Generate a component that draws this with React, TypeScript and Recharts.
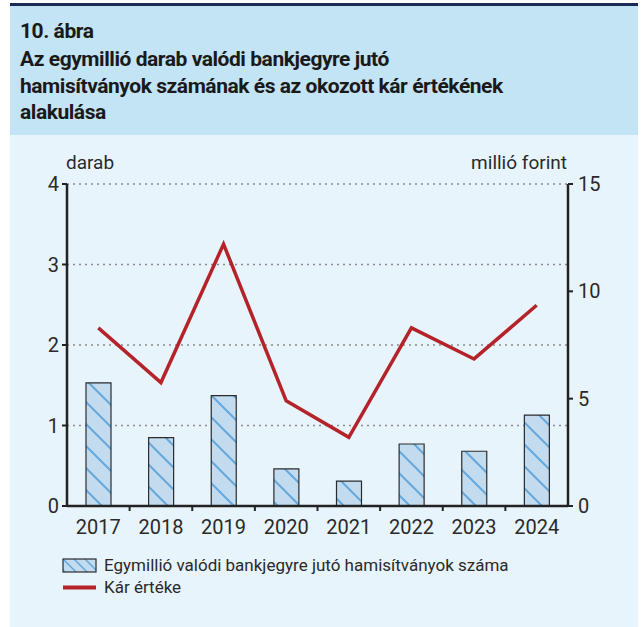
import React from "react";
import { ComposedChart, Bar, Line, XAxis, YAxis, CartesianGrid } from "recharts";

const YEARS = ["2017", "2018", "2019", "2020", "2021", "2022", "2023", "2024"];
// darab (left axis)
const FAKES_PER_MILLION = [1.53, 0.85, 1.37, 0.46, 0.31, 0.77, 0.68, 1.13];
// millió forint (right axis)
const DAMAGE_VALUE = [8.3, 5.75, 12.2, 4.9, 3.2, 8.3, 6.85, 9.35];
const LEFT_TICKS = [0, 1, 2, 3, 4];
const RIGHT_TICKS = [0, 5, 10, 15];

const TITLE_LINES = [
  "10. ábra",
  "Az egymillió darab valódi bankjegyre jutó",
  "hamisítványok számának és az okozott kár értékének",
  "alakulása",
];
const BAR_NAME = "Egymillió valódi bankjegyre jutó hamisítványok száma";
const LINE_NAME = "Kár értéke";

const data = YEARS.map((y, i) => ({ year: y, fakes: FAKES_PER_MILLION[i], damage: DAMAGE_VALUE[i] }));

const FONT = "Roboto, 'Open Sans', sans-serif";
const RED = "#b5232a";
const AXIS = "#222";
const BAR_FILL = "#c3dbef";
const HATCH = "#63a9dd";

const TICK_SIZE = 5;
const TICK_MARGIN = 9;

function YearTick(props: any) {
  const { x, y, payload, index, width } = props;
  const half = width / YEARS.length / 2;
  const axisY = y - TICK_SIZE - TICK_MARGIN;
  return (
    <g>
      <text x={x} y={y} dy="0.71em" textAnchor="middle" fill="#2a2a2a" fontSize={20} fontFamily={FONT}>
        {payload.value}
      </text>
      {index < YEARS.length - 1 ? (
        <line x1={x + half} x2={x + half} y1={axisY} y2={axisY + TICK_SIZE} stroke={AXIS} strokeWidth={2} />
      ) : null}
    </g>
  );
}

export default function App() {
  return (
    <div
      style={{
        position: "absolute",
        left: 0,
        top: 0,
        width: 641,
        height: 627,
        background: "#fff",
        fontFamily: FONT,
        overflow: "hidden",
      }}
    >
      {/* panel */}
      <div
        style={{
          position: "absolute",
          left: 10,
          top: 3,
          width: 628,
          height: 621,
          borderTop: "3px solid #1b2b58",
          borderBottom: "3px solid #1b2b58",
          background: "#e8f4fb",
        }}
      />
      <div
        style={{
          position: "absolute",
          left: 10,
          top: 6,
          width: 628,
          height: 129,
          background: "#c2e4f4",
        }}
      />
      <div style={{ position: "absolute", left: 20, top: 17, color: "#1a1a1a" }}>
        {TITLE_LINES.map((t, i) => (
          <div
            key={i}
            style={{
              fontWeight: 700,
              fontSize: 21,
              letterSpacing: -0.45,
              lineHeight: i === 0 ? "29px" : "26.5px",
              whiteSpace: "nowrap",
            }}
          >
            {t}
          </div>
        ))}
      </div>

      {/* axis units */}
      <div style={{ position: "absolute", left: 66, top: 151, fontSize: 19, color: "#2a2a2a" }}>darab</div>
      <div style={{ position: "absolute", right: 74, top: 151, fontSize: 19, color: "#2a2a2a" }}>millió forint</div>

      <div style={{ position: "absolute", left: 0, top: 140 }}>
        <ComposedChart
          width={641}
          height={420}
          data={data}
          margin={{ top: 44, right: 28, left: 27, bottom: 24 }}
          barSize={25}
        >
          <defs>
            <pattern id="hatch" patternUnits="userSpaceOnUse" width={22} height={22}>
              <rect x={0} y={0} width={22} height={22} fill={BAR_FILL} />
              <path d="M0,0 L22,22 M-11,11 L11,33 M11,-11 L33,11" stroke={HATCH} strokeWidth={2} />
            </pattern>
          </defs>
          <CartesianGrid
            yAxisId="left"
            vertical={false}
            stroke="#8a8a8a"
            strokeDasharray="2 4"
            strokeWidth={1.3}
          />
          <XAxis
            dataKey="year"
            height={30}
            axisLine={{ stroke: AXIS, strokeWidth: 2.5 }}
            tickLine={false}
            tickSize={TICK_SIZE}
            tickMargin={TICK_MARGIN}
            tick={<YearTick />}
            interval={0}
          />
          <YAxis
            yAxisId="left"
            orientation="left"
            width={40}
            domain={[0, 4]}
            ticks={LEFT_TICKS}
            interval={0}
            axisLine={{ stroke: AXIS, strokeWidth: 2.5 }}
            tickLine={{ stroke: AXIS, strokeWidth: 2 }}
            tickSize={TICK_SIZE}
            tickMargin={3}
            tick={{ fill: "#2a2a2a", fontSize: 20, fontFamily: FONT }}
          />
          <YAxis
            yAxisId="right"
            orientation="right"
            width={45}
            domain={[0, 15]}
            ticks={RIGHT_TICKS}
            interval={0}
            axisLine={{ stroke: AXIS, strokeWidth: 2.5 }}
            tickLine={{ stroke: AXIS, strokeWidth: 2 }}
            tickSize={TICK_SIZE}
            tickMargin={5}
            tick={{ fill: "#2a2a2a", fontSize: 20, fontFamily: FONT }}
          />
          <Bar
            yAxisId="left"
            dataKey="fakes"
            name={BAR_NAME}
            fill="url(#hatch)"
            stroke="#2b2b2b"
            strokeWidth={1.2}
            isAnimationActive={false}
          />
          <Line
            yAxisId="right"
            dataKey="damage"
            name={LINE_NAME}
            type="linear"
            stroke={RED}
            strokeWidth={3.5}
            dot={false}
            activeDot={false}
            isAnimationActive={false}
          />
        </ComposedChart>
      </div>

      {/* legend */}
      <div style={{ position: "absolute", left: 62, top: 554, fontSize: 17, color: "#2a2a2a" }}>
        <div style={{ display: "flex", alignItems: "center", height: 22 }}>
          <svg width={35} height={15} style={{ marginRight: 7 }}>
            <defs>
              <pattern id="hatch-legend" patternUnits="userSpaceOnUse" width={11} height={11}>
                <rect x={0} y={0} width={11} height={11} fill={BAR_FILL} />
                <path d="M0,0 L11,11 M-5.5,5.5 L5.5,16.5 M5.5,-5.5 L16.5,5.5" stroke={HATCH} strokeWidth={1.5} />
              </pattern>
            </defs>
            <rect x={1} y={1} width={33} height={13} fill="url(#hatch-legend)" stroke="#2b2b2b" strokeWidth={1.2} />
          </svg>
          <span>{BAR_NAME}</span>
        </div>
        <div style={{ display: "flex", alignItems: "center", height: 22 }}>
          <svg width={35} height={15} style={{ marginRight: 7 }}>
            <line x1={1} x2={34} y1={7.5} y2={7.5} stroke={RED} strokeWidth={4} />
          </svg>
          <span>{LINE_NAME}</span>
        </div>
      </div>
    </div>
  );
}
